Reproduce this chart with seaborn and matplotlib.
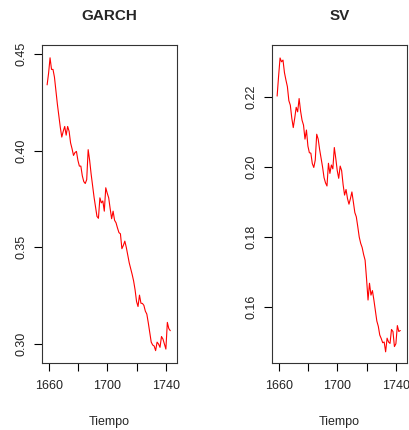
import seaborn as sns
import matplotlib
matplotlib.use('Agg')
import matplotlib.pyplot as plt

years = list(range(1659, 1744))

garch = [
    0.434, 0.440, 0.448, 0.442, 0.442, 0.438, 0.431, 0.424, 0.418, 0.412,
    0.407, 0.410, 0.4125, 0.408, 0.4125, 0.410, 0.404, 0.401, 0.3975, 0.399,
    0.3996, 0.395, 0.392, 0.392, 0.387, 0.384, 0.383, 0.385, 0.4005, 0.395,
    0.388, 0.382, 0.376, 0.371, 0.366, 0.365, 0.3756, 0.373, 0.374, 0.3687,
    0.3808, 0.378, 0.3756, 0.370, 0.3648, 0.3687, 0.364, 0.3627, 0.360, 0.3576,
    0.357, 0.3493, 0.351, 0.3532, 0.350, 0.346, 0.342, 0.339, 0.336, 0.3326,
    0.328, 0.322, 0.3194, 0.3253, 0.3211, 0.321, 0.320, 0.317, 0.3155, 0.311,
    0.306, 0.301, 0.2995, 0.299, 0.2966, 0.301, 0.300, 0.2983, 0.3039, 0.3026,
    0.300, 0.2974, 0.3112, 0.308, 0.3069,
]

sv = [
    0.2203, 0.226, 0.2312, 0.2301, 0.2306, 0.227, 0.2249, 0.223, 0.219, 0.2177,
    0.214, 0.2113, 0.214, 0.2171, 0.2158, 0.2196, 0.216, 0.2134, 0.212, 0.208,
    0.2106, 0.206, 0.2041, 0.204, 0.201, 0.1999, 0.202, 0.2094, 0.208, 0.205,
    0.2025, 0.200, 0.197, 0.1955, 0.1946, 0.2011, 0.1982, 0.2006, 0.1995, 0.2056,
    0.2025, 0.199, 0.1968, 0.2003, 0.199, 0.195, 0.192, 0.1936, 0.191, 0.1894,
    0.191, 0.1929, 0.190, 0.187, 0.1858, 0.183, 0.180, 0.1782, 0.177, 0.175,
    0.1734, 0.168, 0.162, 0.1668, 0.1634, 0.1647, 0.162, 0.159, 0.156, 0.1545,
    0.152, 0.151, 0.1498, 0.150, 0.1472, 0.1511, 0.150, 0.1496, 0.1536, 0.153,
    0.1487, 0.1495, 0.1547, 0.153, 0.1533,
]

titles = ["GARCH", "SV"]
x_ticks = [1660, 1680, 1700, 1720, 1740]
x_labels = ["1660", "", "1700", "", "1740"]
y_ticks = [[0.30, 0.35, 0.40, 0.45], [0.16, 0.18, 0.20, 0.22]]
y_labels = [["0.30", "0.35", "0.40", "0.45"], ["0.16", "0.18", "0.20", "0.22"]]
y_lims = [(0.2902, 0.4546), (0.1440, 0.2349)]

sns.set_style("ticks")
plt.rcParams['font.family'] = ['Liberation Sans', 'DejaVu Sans']

fig = plt.figure(figsize=(4.1, 4.3), dpi=100)
axes = [fig.add_axes([0.1024, 0.1558, 0.329, 0.7395]),
        fig.add_axes([0.6634, 0.1558, 0.329, 0.7395])]

for i, (ax, series) in enumerate(zip(axes, [garch, sv])):
    sns.lineplot(x=years, y=series, ax=ax, color='red', linewidth=0.8)
    ax.set_xlim(1655.5, 1747.5)
    ax.set_ylim(*y_lims[i])
    ax.set_xticks(x_ticks)
    ax.set_xticklabels(x_labels)
    ax.set_yticks(y_ticks[i])
    ax.set_yticklabels(y_labels[i], rotation=90, va='center')
    ax.tick_params(axis='both', labelsize=9, length=5.5, width=0.8,
                   color='black', labelcolor='#222222')
    ax.tick_params(axis='x', pad=7)
    ax.tick_params(axis='y', pad=5)
    for sp in ax.spines.values():
        sp.set_visible(True)
        sp.set_linewidth(0.8)
        sp.set_color('#333333')
    ax.set_title(titles[i], fontsize=11, fontweight='bold', pad=18)
    ax.set_xlabel("Tiempo", fontsize=9, labelpad=17)
    ax.set_ylabel("")

fig.savefig("out.png", dpi=100)
